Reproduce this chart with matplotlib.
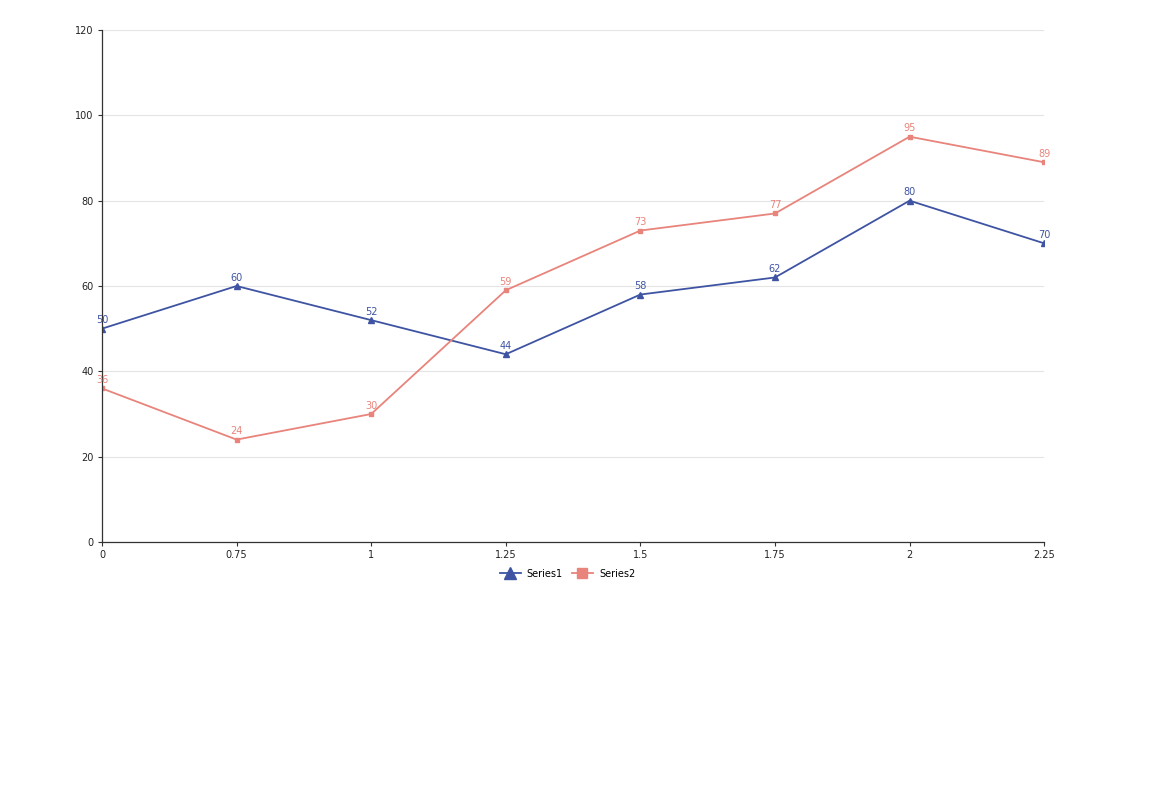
import numpy as np
import matplotlib.pyplot as plt

categories = ['0', '0.75', '1', '1.25', '1.5', '1.75', '2', '2.25']
series1 = [50, 60, 52, 44, 58, 62, 80, 70]
series2 = [36, 24, 30, 59, 73, 77, 95, 89]
yticks = [0, 20, 40, 60, 80, 100, 120]

c1 = '#3e54a3'
c2 = '#e8847b'

fig = plt.figure(figsize=(11.51, 7.98), dpi=100)
ax = fig.add_axes([0.0886, 0.3208, 0.8186, 0.6416])
x = np.arange(len(categories))

ax.plot(x, series1, color=c1, lw=1.3, marker='^', ms=4, label='Series1')
ax.plot(x, series2, color=c2, lw=1.3, marker='s', ms=3.5, label='Series2')
for xi, v in zip(x, series1):
    ax.annotate(str(v), (xi, v), xytext=(0, 2.5), textcoords='offset points',
                ha='center', va='bottom', fontsize=7, color=c1)
for xi, v in zip(x, series2):
    ax.annotate(str(v), (xi, v), xytext=(0, 2.5), textcoords='offset points',
                ha='center', va='bottom', fontsize=7, color=c2)

ax.set_xlim(0, len(categories) - 1)
ax.set_ylim(0, 120)
ax.set_xticks(x)
ax.set_xticklabels(categories)
ax.set_yticks(yticks)
ax.tick_params(labelsize=7, length=3, width=0.8, color='#333333', labelcolor='#222222', pad=3)
ax.grid(axis='y', color='#e4e4e4', lw=0.8)
ax.set_axisbelow(True)
for s in ['top', 'right']:
    ax.spines[s].set_visible(False)
for s in ['left', 'bottom']:
    ax.spines[s].set_color('#333333')
    ax.spines[s].set_linewidth(0.9)

ax.legend(loc='upper center', bbox_to_anchor=(0.494, -0.035), ncol=2, frameon=False,
          fontsize=7, markerscale=2, handlelength=2.2, handletextpad=0.6,
          columnspacing=0.9)

fig.savefig('out.png', dpi=100)
